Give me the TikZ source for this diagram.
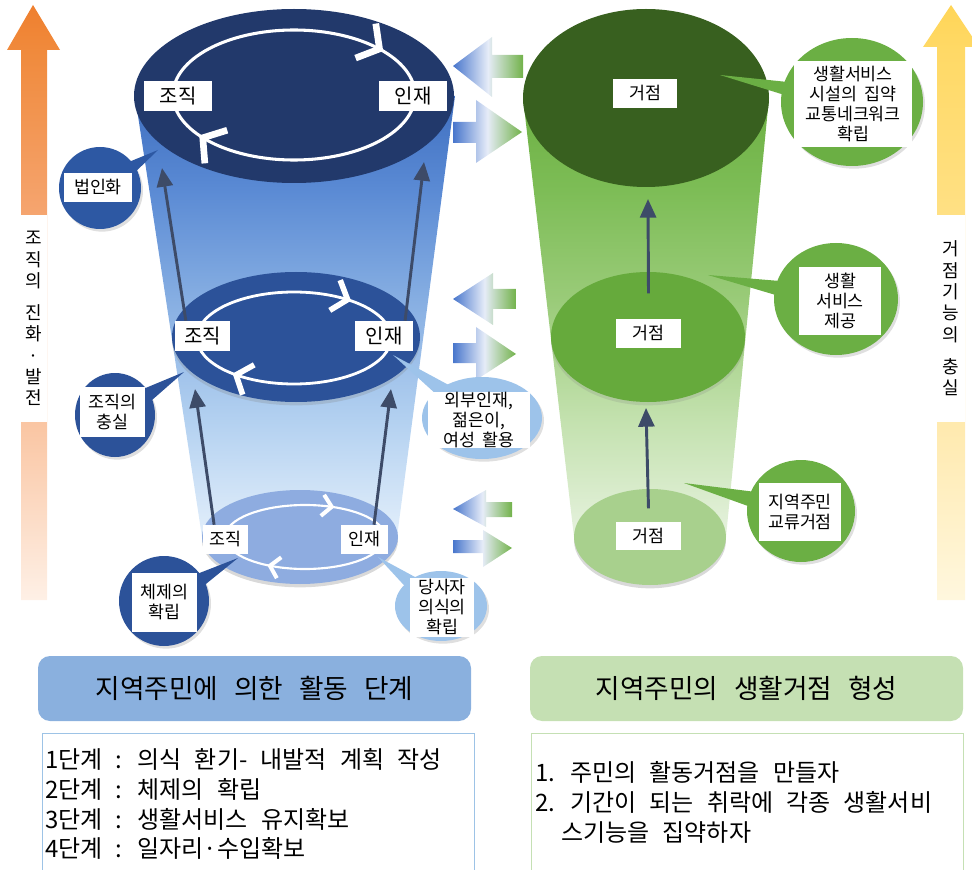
\documentclass[tikz,border=0pt]{standalone}
\usepackage{fontspec}
\setmainfont{Noto Sans CJK KR}
\usetikzlibrary{arrows.meta,calc,shapes.geometric,shadows,decorations.markings}

% one drawing unit = 0.75pt
\newdimen\pxu \pxu=0.75pt

\definecolor{navy}{HTML}{22396B}
\definecolor{midblue}{HTML}{2C5299}
\definecolor{paleblue}{HTML}{8EACE0}
\definecolor{calloutblue}{HTML}{2D58A3}
\definecolor{skyblue}{HTML}{9DC3EA}
\definecolor{darkgreen}{HTML}{38601F}
\definecolor{midgreen}{HTML}{66AA3C}
\definecolor{palegreen}{HTML}{A8D08D}
\definecolor{calloutgreen}{HTML}{6BAF44}
\definecolor{stem}{HTML}{3D4B68}
\definecolor{headblue}{HTML}{8AB0DE}
\definecolor{headgreen}{HTML}{C5E0B3}
\definecolor{frameblue}{HTML}{9DC3E6}
\definecolor{framegreen}{HTML}{C5E0B4}
\definecolor{flowblue}{HTML}{4876CC}
\definecolor{flowmid}{HTML}{E6ECF8}
\definecolor{flowgreen}{HTML}{72B24A}

% body gradients (top of the shape = 75bp, bottom = 25bp)
\definecolor{bb1}{HTML}{3F6FC0}
\definecolor{bb2}{HTML}{5A8AD4}
\definecolor{bb3}{HTML}{86AEE2}
\definecolor{bb4}{HTML}{B2D0F0}
\definecolor{bb5}{HTML}{E3EFFB}
\definecolor{gb1}{HTML}{6DB044}
\definecolor{gb2}{HTML}{7DBD56}
\definecolor{gb3}{HTML}{9ACB79}
\definecolor{gb4}{HTML}{C3E1AE}
\definecolor{gb5}{HTML}{E6F2DE}
\definecolor{or1}{HTML}{EF7F2E}
\definecolor{or2}{HTML}{F08A3C}
\definecolor{or3}{HTML}{F5A46E}
\definecolor{or4}{HTML}{FAC7A5}
\definecolor{or5}{HTML}{FEF0E6}
\definecolor{ye1}{HTML}{FFD557}
\definecolor{ye2}{HTML}{FFD966}
\definecolor{ye3}{HTML}{FFE083}
\definecolor{ye4}{HTML}{FFEAB0}
\definecolor{ye5}{HTML}{FFF7DE}

\pgfdeclareverticalshading{bluebody}{100bp}{color(0bp)=(bb5); color(25bp)=(bb5);
  color(38.5bp)=(bb4); color(52bp)=(bb3); color(64.5bp)=(bb2); color(75bp)=(bb1); color(100bp)=(bb1)}
\pgfdeclareverticalshading{greenbody}{100bp}{color(0bp)=(gb5); color(25bp)=(gb5);
  color(38.5bp)=(gb4); color(52bp)=(gb3); color(64.5bp)=(gb2); color(75bp)=(gb1); color(100bp)=(gb1)}
\pgfdeclareverticalshading{orangerise}{100bp}{color(0bp)=(or5); color(25bp)=(or5);
  color(39.3bp)=(or4); color(57.8bp)=(or3); color(71.2bp)=(or2); color(75bp)=(or1); color(100bp)=(or1)}
\pgfdeclareverticalshading{yellowrise}{100bp}{color(0bp)=(ye5); color(25bp)=(ye5);
  color(39.3bp)=(ye4); color(57.8bp)=(ye3); color(71.2bp)=(ye2); color(75bp)=(ye1); color(100bp)=(ye1)}

\newcommand\bigtag{\fontsize{15}{18}\selectfont}
\newcommand\smalltag{\fontsize{13}{16}\selectfont}
\newcommand\calltext{\fontsize{13}{15}\selectfont\spaceskip=0.45em\relax}
\newcommand\stacktext{\fontsize{13.5}{16}\selectfont}
\newcommand\headtext{\fontsize{20}{24}\selectfont\spaceskip=0.6em\relax}
\newcommand\listtext{\fontsize{18}{21}\selectfont\spaceskip=0.55em\relax}

% wedge from a callout bubble to the point it explains
\newcommand\calloutwedge[3]{%
  \fill[#1] ($(#2.center)!10pt!90:(#3)$) -- (#3) -- ($(#2.center)!10pt!-90:(#3)$) -- cycle;}

\tikzset{
  lbl/.style={fill=white, inner sep=0pt, align=center},
  bubble/.style={ellipse, inner sep=0pt,
    drop shadow={shadow xshift=1.5pt, shadow yshift=-2pt, opacity=0.25}},
  rise/.style={draw=stem, line width=2.2pt, -{Triangle[length=14pt,width=12pt]}},
  ringmarks/.style n args={5}{decoration={markings,
      mark=at position #1 with {\arrow{Straight Barb[length=#3,width=#4,line width=#5]}},
      mark=at position #2 with {\arrow{Straight Barb[length=#3,width=#4,line width=#5]}}},
    postaction={decorate}},
  flow/.style={left color=flowblue, right color=flowgreen, middle color=flowmid},
}

\begin{document}
\begin{tikzpicture}[x=0.75pt, y=-0.75pt]
\useasboundingbox (0,0) rectangle (972,870);
\clip (0,0) rectangle (972,870);

% ---------- side arrows ----------
\shade[shading=orangerise] (21,600) -- (21,50) -- (7,50) -- (33,5) -- (60,50)
  -- (47,50) -- (47,600) -- cycle;
\node[lbl, minimum width=26\pxu, minimum height=207\pxu, font=\stacktext] (growL)
  at (34,318.5) {조\\직\\의\\[8pt]진\\화\\·\\발\\전};
\shade[shading=yellowrise] (937,600) -- (937,47) -- (923,47) -- (951,5) -- (979,47)
  -- (965,47) -- (965,600) -- cycle;
\node[lbl, minimum width=28\pxu, minimum height=207\pxu, font=\stacktext] (growR)
  at (951,318.5) {거\\점\\기\\능\\의\\[8pt]충\\실};

% ---------- blue cylinder ----------
\shade[shading=bluebody] (135,96) -- (455,96) -- (397,537) -- (202,537) -- cycle;
\fill[paleblue, drop shadow={shadow xshift=0pt, shadow yshift=-2.5pt, opacity=0.3}]
  (300,537) ellipse [x radius=98, y radius=47];
\fill[midblue, drop shadow={shadow xshift=0pt, shadow yshift=-2.5pt, opacity=0.25}]
  (296,337) ellipse [x radius=124, y radius=65];
\fill[navy] (294,96) ellipse [x radius=160, y radius=87];

\draw[white, line width=1.6pt, ringmarks={0.353}{0.83}{7pt}{16pt}{3pt}]
  (305,537) ellipse [x radius=80, y radius=32];
\draw[white, line width=2.1pt, ringmarks={0.385}{0.875}{10pt}{24pt}{4.2pt}]
  (294,338) ellipse [x radius=97, y radius=46];
\draw[white, line width=2.3pt, ringmarks={0.416}{0.905}{12pt}{30pt}{5pt}]
  (294,95) ellipse [x radius=121, y radius=65];

% ---------- green cylinder ----------
\shade[shading=greenbody] (523,98) -- (769,98) -- (726,537) -- (574,537) -- cycle;
\fill[palegreen, drop shadow={shadow xshift=0pt, shadow yshift=-2.5pt, opacity=0.3}]
  (650,537) ellipse [x radius=76, y radius=48];
\fill[midgreen, drop shadow={shadow xshift=0pt, shadow yshift=-2.5pt, opacity=0.2}]
  (648,337) ellipse [x radius=97, y radius=65];
\fill[darkgreen] (646,98) ellipse [x radius=123, y radius=89];

% ---------- exchange arrows between the cylinders ----------
\shade[flow] (453,66) -- (492,37) -- (492,55) -- (523,55) -- (523,78) -- (492,78)
  -- (492,97) -- cycle;
\shade[flow] (453,122) -- (476,122) -- (476,100) -- (522,132) -- (476,163)
  -- (476,143) -- (453,143) -- cycle;
\shade[flow] (453,299) -- (493,273) -- (493,289) -- (516,289) -- (516,309) -- (493,309)
  -- (493,325) -- cycle;
\shade[flow] (453,343) -- (476,343) -- (476,327) -- (516,354) -- (476,380)
  -- (476,363) -- (453,363) -- cycle;
\shade[flow] (453,509) -- (486,490) -- (486,502) -- (512,502) -- (512,517) -- (486,517)
  -- (486,527) -- cycle;
\shade[flow] (453,540) -- (483,540) -- (483,530) -- (512,548) -- (483,567)
  -- (483,553) -- (453,553) -- cycle;

% ---------- callout bubbles ----------
\node[bubble, fill=calloutblue, minimum width=82\pxu, minimum height=82\pxu] (cLaw) at (100,188) {};
\node[bubble, fill=midblue, minimum width=80\pxu, minimum height=84\pxu] (cOrg) at (115,415) {};
\node[bubble, fill=midblue, minimum width=90\pxu, minimum height=90\pxu] (cSys) at (164,601) {};
\node[bubble, fill=skyblue, minimum width=120\pxu, minimum height=82\pxu] (cOut) at (482,418) {};
\node[bubble, fill=skyblue, minimum width=92\pxu, minimum height=70\pxu] (cSelf) at (441,606) {};
\node[bubble, fill=calloutgreen, minimum width=142\pxu, minimum height=128\pxu] (cHub) at (852,102) {};
\node[bubble, fill=calloutgreen, minimum width=124\pxu, minimum height=112\pxu] (cSvc) at (836,299) {};
\node[bubble, fill=calloutgreen, minimum width=108\pxu, minimum height=102\pxu] (cMeet) at (801,511) {};

\coordinate (pLaw) at (158,150);
\coordinate (pOrg) at (184,372);
\coordinate (pSys) at (238,558);
\coordinate (pOut) at (393,355);
\coordinate (pSelf) at (378,557);
\coordinate (pHub) at (720,75);
\coordinate (pSvc) at (708,275);
\coordinate (pMeet) at (684,483);
\calloutwedge{calloutblue}{cLaw}{pLaw}
\calloutwedge{midblue}{cOrg}{pOrg}
\calloutwedge{midblue}{cSys}{pSys}
\calloutwedge{skyblue}{cOut}{pOut}
\calloutwedge{skyblue}{cSelf}{pSelf}
\calloutwedge{calloutgreen}{cHub}{pHub}
\calloutwedge{calloutgreen}{cSvc}{pSvc}
\calloutwedge{calloutgreen}{cMeet}{pMeet}

\node[lbl, font=\calltext, minimum width=68\pxu, minimum height=29\pxu] (tLaw) at (98,187.5) {법인화};
\node[lbl, font=\calltext, minimum width=65\pxu, minimum height=50\pxu] (tOrg) at (112.5,412) {조직의\\충실};
\node[lbl, font=\calltext, minimum width=65\pxu, minimum height=59\pxu] (tSys) at (164.5,602.5) {체제의\\확립};
\node[lbl, font=\calltext, minimum width=102\pxu, minimum height=56\pxu] (tOut) at (479,420) {외부인재,\\젊은이,\\여성 활용};
\node[lbl, font=\calltext, minimum width=64\pxu, minimum height=59\pxu] (tSelf) at (442,607.5) {당사자\\의식의\\확립};
\node[lbl, font=\calltext, minimum width=118\pxu, minimum height=86\pxu] (tHub) at (853,104) {생활서비스\\시설의 집약\\교통네크워크\\확립};
\node[lbl, font=\calltext, minimum width=82\pxu, minimum height=68\pxu] (tSvc) at (840,301) {생활\\서비스\\제공};
\node[lbl, font=\calltext, minimum width=82\pxu, minimum height=58\pxu] (tMeet) at (800,512) {지역주민\\교류거점};

% ---------- cylinder labels ----------
\node[lbl, font=\bigtag, minimum width=68\pxu, minimum height=30\pxu] (tz) at (178,96) {조직};
\node[lbl, font=\bigtag, minimum width=68\pxu, minimum height=30\pxu] (ti) at (413,96) {인재};
\node[lbl, font=\bigtag, minimum width=55\pxu, minimum height=30\pxu] (mz) at (202.5,336) {조직};
\node[lbl, font=\bigtag, minimum width=58\pxu, minimum height=30\pxu] (mi) at (384,336) {인재};
\node[lbl, font=\smalltag, minimum width=45\pxu, minimum height=29\pxu] (bz) at (225.5,539.5) {조직};
\node[lbl, font=\smalltag, minimum width=47\pxu, minimum height=29\pxu] (bi) at (364.5,539.5) {인재};
\node[lbl, font=\smalltag, minimum width=64\pxu, minimum height=29\pxu] (gt) at (645,93.5) {거점};
\node[lbl, font=\smalltag, minimum width=65\pxu, minimum height=29\pxu] (gm) at (648.5,333.5) {거점};
\node[lbl, font=\smalltag, minimum width=65\pxu, minimum height=28\pxu] (gb) at (648.5,536) {거점};

% ---------- growth arrows ----------
\coordinate (tipL1) at (195,389);
\coordinate (tipR1) at (391,389);
\coordinate (tipL2) at (162,168);
\coordinate (tipR2) at (424,162);
\coordinate (gtip1) at (646,408);
\coordinate (gtip2) at (648,199);
\draw[rise] ($(bz.north west)!0.25!(bz.north east)$) -- (tipL1);
\draw[rise] ($(bi.north west)!0.7!(bi.north east)$) -- (tipR1);
\draw[rise] ($(mz.north west)!0.2!(mz.north east)$) -- (tipL2);
\draw[rise] ($(mi.north west)!0.86!(mi.north east)$) -- (tipR2);
\draw[rise] ([yshift=10pt]gb.north) -- (gtip1);
\draw[rise] ([yshift=19pt]gm.north) -- (gtip2);

% ---------- captions ----------
\node[fill=headblue, rounded corners=9pt, minimum width=433\pxu, minimum height=65\pxu,
  font=\headtext] (hL) at (254.5,688.5) {지역주민에 의한 활동 단계};
\node[fill=headgreen, rounded corners=9pt, minimum width=433\pxu, minimum height=65\pxu,
  font=\headtext] (hR) at (746.5,688.5) {지역주민의 생활거점 형성};

\node[draw=frameblue, line width=0.7pt, minimum width=432\pxu, minimum height=160\pxu,
  anchor=north west, inner sep=0pt] (listL) at (42,733) {};
\node[draw=framegreen, line width=0.7pt, minimum width=432\pxu, minimum height=160\pxu,
  anchor=north west, inner sep=0pt] (listR) at (531,733) {};

\node[anchor=base west, inner sep=0pt, font=\listtext] (s1) at (45,768) {1단계 : 의식 환기- 내발적 계획 작성};
\node[anchor=base west, inner sep=0pt, font=\listtext] (s2) at (45,798) {2단계 : 체제의 확립};
\node[anchor=base west, inner sep=0pt, font=\listtext] (s3) at (45,828) {3단계 : 생활서비스 유지확보};
\node[anchor=base west, inner sep=0pt, font=\listtext] (s4) at (45,857) {4단계 : 일자리·수입확보};

\node[anchor=base west, inner sep=0pt, font=\listtext] (r1) at (535,781) {1. 주민의 활동거점을 만들자};
\node[anchor=base west, inner sep=0pt, font=\listtext] (r2) at (535,811) {2. 기간이 되는 취락에 각종 생활서비};
\node[anchor=base west, inner sep=0pt, font=\listtext] (r3) at (561,841) {스기능을 집약하자};
\end{tikzpicture}
\end{document}
